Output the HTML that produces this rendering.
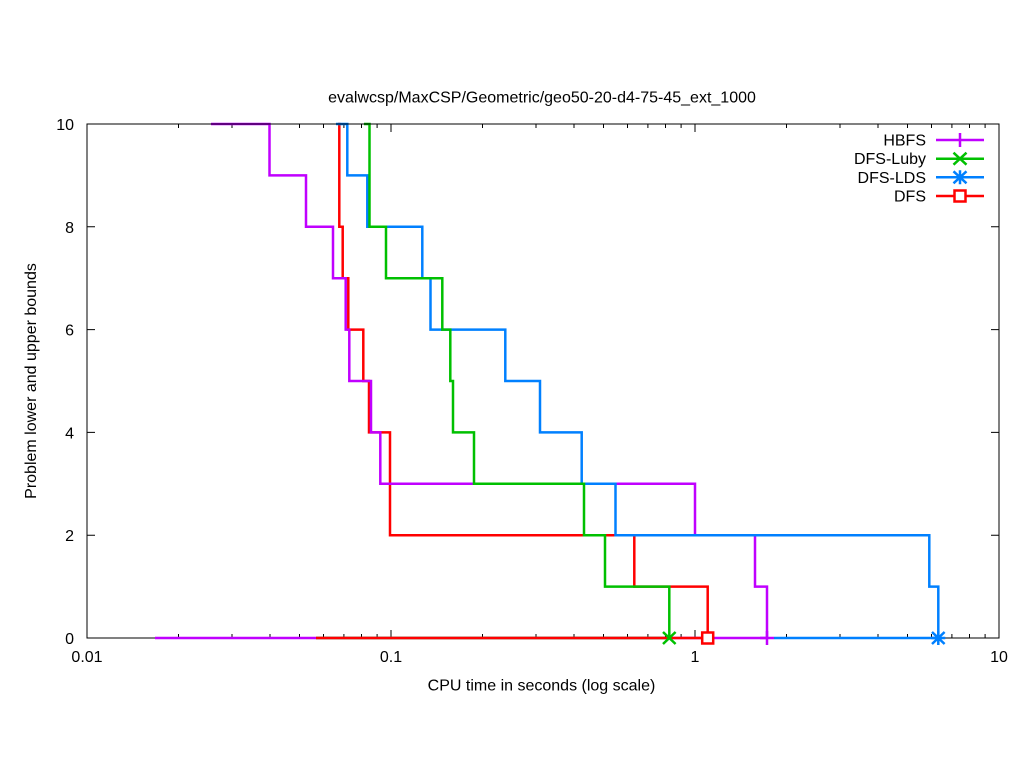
<!DOCTYPE html>
<html><head><meta charset="utf-8"><style>html,body{margin:0;padding:0;background:#fff}svg{display:block}text{font-family:"Liberation Sans",Arial,sans-serif;font-size:16px;fill:#000}</style></head><body>
<svg width="1024" height="768" viewBox="0 0 1024 768" xmlns="http://www.w3.org/2000/svg">
<rect width="1024" height="768" fill="#fff"/>
<rect x="87" y="124" width="912" height="514" fill="none" stroke="#000" stroke-width="1"/>
<g stroke="#000" stroke-width="1" fill="none">
<path d="M87,638h8M999,638h-8M87,535.2h8M999,535.2h-8M87,432.4h8M999,432.4h-8M87,329.6h8M999,329.6h-8M87,226.8h8M999,226.8h-8M87,124h8M999,124h-8"/>
<path d="M87,638v-8M87,124v8M391,638v-8M391,124v8M695,638v-8M695,124v8M999,638v-8M999,124v8"/>
<path d="M178.5,638v-4M178.5,124v4M232,638v-4M232,124v4M270,638v-4M270,124v4M299.5,638v-4M299.5,124v4M323.5,638v-4M323.5,124v4M343.9,638v-4M343.9,124v4M361.5,638v-4M361.5,124v4M377.1,638v-4M377.1,124v4
M482.5,638v-4M482.5,124v4M536,638v-4M536,124v4M574,638v-4M574,124v4M603.5,638v-4M603.5,124v4M627.5,638v-4M627.5,124v4M647.9,638v-4M647.9,124v4M665.5,638v-4M665.5,124v4M681.1,638v-4M681.1,124v4
M786.5,638v-4M786.5,124v4M840,638v-4M840,124v4M878,638v-4M878,124v4M907.5,638v-4M907.5,124v4M931.5,638v-4M931.5,124v4M951.9,638v-4M951.9,124v4M969.5,638v-4M969.5,124v4M985.1,638v-4M985.1,124v4"/>
</g>
<g text-anchor="end">
<text x="74" y="644">0</text>
<text x="74" y="541">2</text>
<text x="74" y="438.4">4</text>
<text x="74" y="335.6">6</text>
<text x="74" y="232.8">8</text>
<text x="74" y="130">10</text>
</g>
<g text-anchor="middle">
<text x="87" y="662">0.01</text>
<text x="391" y="662">0.1</text>
<text x="695" y="662">1</text>
<text x="999" y="662">10</text>
<text x="542" y="102.5">evalwcsp/MaxCSP/Geometric/geo50-20-d4-75-45_ext_1000</text>
<text x="541.5" y="690.5">CPU time in seconds (log scale)</text>
<text transform="translate(36,381) rotate(-90)" x="0" y="0">Problem lower and upper bounds</text>
</g>
<g fill="none" stroke-width="2.5" stroke-linejoin="miter" stroke-linecap="butt">
<path stroke="#ff0000" d="M338,124H339.3V226.8H342.7V278.2H348.3V329.6H363.3V381H369V432.4H390V535.2H634.3V586.6H707.7V638"/>
<path stroke="#c000ff" d="M211,124H269.5V175.4H306V226.8H333V278.2H345.7V329.6H349.3V381H371V432.4H380.3V483.8H695V535.2H755V586.6H767V638"/>
<path stroke="#0080ff" d="M336,124H347.3V175.4H367.3V226.8H422.3V278.2H430.5V329.6H505.3V381H540V432.4H581.7V483.8H615.5V535.2H929.3V586.6H938.3V638"/>
<path stroke="#00c000" d="M364,124H369.5V226.8H386V278.2H442.3V329.6H450.3V381H453V432.4H474V483.8H584V535.2H605V586.6H669.3V638"/>
<path stroke="#c000ff" d="M155,638H767"/>
<path stroke="#00c000" d="M316,638H669.3"/>
<path stroke="#ff0000" d="M316,638H707.7"/>
<path stroke="#0080ff" d="M774,638H938.3"/>
</g>
<path d="M87,124H999" stroke="#000" stroke-width="1" fill="none"/>
<g fill="none" stroke-width="2.5">
<path stroke="#c000ff" d="M760,638h14M767,631v14"/>
<path stroke="#00c000" d="M663,632l12.6,12M663,644l12.6,-12"/>
<rect x="702.2" y="632.5" width="11" height="11" fill="#fff" stroke="#ff0000"/>
<path stroke="#0080ff" d="M932,632l12.6,12M932,644l12.6,-12M931.3,638h14M938.3,631v14"/>
</g>
<g text-anchor="end">
<text x="926" y="145.5">HBFS</text>
<text x="926" y="164.2">DFS-Luby</text>
<text x="926" y="182.8">DFS-LDS</text>
<text x="926" y="201.5">DFS</text>
</g>
<g fill="none" stroke-width="2.5">
<path stroke="#c000ff" d="M936,140H984M960,133v14"/>
<path stroke="#00c000" d="M936,158.7H984M953.5,152.7l13,12M953.5,164.7l13,-12"/>
<path stroke="#0080ff" d="M936,177.3H984M953.5,171.3l13,12M953.5,183.3l13,-12M960,170.3v14"/>
<path stroke="#ff0000" d="M936,196H984"/>
<rect x="954.5" y="190.5" width="11" height="11" fill="#fff" stroke="#ff0000" stroke-width="2.5"/>
</g>
</svg>
</body></html>
